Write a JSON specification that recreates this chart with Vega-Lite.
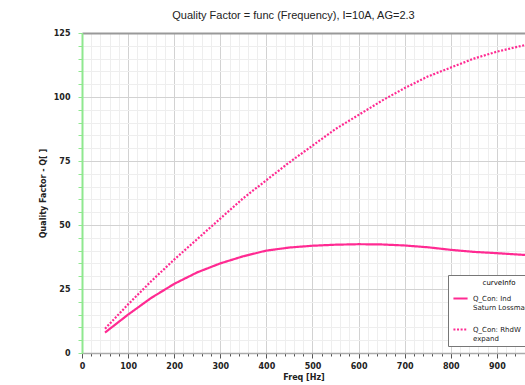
{
  "$schema": "https://vega.github.io/schema/vega-lite/v6.json",
  "width": 443,
  "height": 320,
  "autosize": "none",
  "padding": {"left": 82, "top": 33, "right": 0, "bottom": 32},
  "background": "white",
  "title": {
    "text": "Quality Factor = func (Frequency), I=10A, AG=2.3",
    "font": "Liberation Sans",
    "fontSize": 11,
    "fontWeight": "normal",
    "color": "#222",
    "anchor": "middle",
    "dx": -10,
    "offset": 8
  },
  "config": {
    "view": {"stroke": null},
    "font": "DejaVu Sans"
  },
  "data": {
    "values": [
      {"f": 50, "q": 8, "s": "Q_Con: Ind|Saturn Lossmagnetic"},
      {"f": 100, "q": 15, "s": "Q_Con: Ind|Saturn Lossmagnetic"},
      {"f": 150, "q": 21.5, "s": "Q_Con: Ind|Saturn Lossmagnetic"},
      {"f": 200, "q": 27, "s": "Q_Con: Ind|Saturn Lossmagnetic"},
      {"f": 250, "q": 31.5, "s": "Q_Con: Ind|Saturn Lossmagnetic"},
      {"f": 300, "q": 35, "s": "Q_Con: Ind|Saturn Lossmagnetic"},
      {"f": 350, "q": 37.8, "s": "Q_Con: Ind|Saturn Lossmagnetic"},
      {"f": 400, "q": 40, "s": "Q_Con: Ind|Saturn Lossmagnetic"},
      {"f": 450, "q": 41.2, "s": "Q_Con: Ind|Saturn Lossmagnetic"},
      {"f": 500, "q": 41.9, "s": "Q_Con: Ind|Saturn Lossmagnetic"},
      {"f": 550, "q": 42.3, "s": "Q_Con: Ind|Saturn Lossmagnetic"},
      {"f": 600, "q": 42.5, "s": "Q_Con: Ind|Saturn Lossmagnetic"},
      {"f": 650, "q": 42.4, "s": "Q_Con: Ind|Saturn Lossmagnetic"},
      {"f": 700, "q": 42, "s": "Q_Con: Ind|Saturn Lossmagnetic"},
      {"f": 750, "q": 41.3, "s": "Q_Con: Ind|Saturn Lossmagnetic"},
      {"f": 800, "q": 40.3, "s": "Q_Con: Ind|Saturn Lossmagnetic"},
      {"f": 850, "q": 39.5, "s": "Q_Con: Ind|Saturn Lossmagnetic"},
      {"f": 900, "q": 39, "s": "Q_Con: Ind|Saturn Lossmagnetic"},
      {"f": 961, "q": 38.3, "s": "Q_Con: Ind|Saturn Lossmagnetic"},
      {"f": 50, "q": 9.5, "s": "Q_Con: RhdW|expand"},
      {"f": 100, "q": 19, "s": "Q_Con: RhdW|expand"},
      {"f": 150, "q": 28, "s": "Q_Con: RhdW|expand"},
      {"f": 200, "q": 36.5, "s": "Q_Con: RhdW|expand"},
      {"f": 250, "q": 44.5, "s": "Q_Con: RhdW|expand"},
      {"f": 300, "q": 52.5, "s": "Q_Con: RhdW|expand"},
      {"f": 350, "q": 60.5, "s": "Q_Con: RhdW|expand"},
      {"f": 400, "q": 67.5, "s": "Q_Con: RhdW|expand"},
      {"f": 450, "q": 74.5, "s": "Q_Con: RhdW|expand"},
      {"f": 500, "q": 81, "s": "Q_Con: RhdW|expand"},
      {"f": 550, "q": 87.5, "s": "Q_Con: RhdW|expand"},
      {"f": 600, "q": 93, "s": "Q_Con: RhdW|expand"},
      {"f": 650, "q": 98.5, "s": "Q_Con: RhdW|expand"},
      {"f": 700, "q": 103.5, "s": "Q_Con: RhdW|expand"},
      {"f": 750, "q": 108, "s": "Q_Con: RhdW|expand"},
      {"f": 800, "q": 111.5, "s": "Q_Con: RhdW|expand"},
      {"f": 850, "q": 115, "s": "Q_Con: RhdW|expand"},
      {"f": 900, "q": 117.7, "s": "Q_Con: RhdW|expand"},
      {"f": 961, "q": 120.3, "s": "Q_Con: RhdW|expand"}
    ]
  },
  "mark": {"type": "line", "strokeWidth": 2.2, "clip": true},
  "encoding": {
    "x": {
      "field": "f",
      "type": "quantitative",
      "scale": {"domain": [0, 961], "nice": false, "zero": false},
      "axis": {
        "title": "Freq [Hz]",
        "values": [0,20,40,60,80,100,120,140,160,180,200,220,240,260,280,300,320,340,360,380,400,420,440,460,480,500,520,540,560,580,600,620,640,660,680,700,720,740,760,780,800,820,840,860,880,900,920,940,960],
        "labelExpr": "datum.value % 100 === 0 ? datum.label : ''",
        "labelOverlap": false,
        "labelFlush": false,
        "grid": true,
        "gridColor": {"condition": {"test": "datum.value % 100 === 0", "value": "#d2d2d2"}, "value": "#eeeeee"},
        "gridWidth": 1,
        "tickColor": "#555",
        "tickSize": {"condition": {"test": "datum.value % 100 === 0", "value": 5}, "value": 3},
        "domainColor": "#aaa",
        "domainWidth": 1.5,
        "labelFont": "DejaVu Sans",
        "labelFontSize": 8,
        "labelFontWeight": "bold",
        "labelColor": "#222",
        "labelPadding": 4,
        "titleFont": "DejaVu Sans",
        "titleFontSize": 8,
        "titleFontWeight": "bold",
        "titleColor": "#222",
        "titlePadding": 3
      }
    },
    "y": {
      "field": "q",
      "type": "quantitative",
      "scale": {"domain": [0, 125], "nice": false},
      "axis": {
        "title": "Quality Factor - Q[ ]",
        "values": [0,5,10,15,20,25,30,35,40,45,50,55,60,65,70,75,80,85,90,95,100,105,110,115,120,125],
        "labelExpr": "datum.value % 25 === 0 ? datum.label : ''",
        "labelOverlap": false,
        "labelFlush": false,
        "grid": true,
        "gridColor": {"condition": [{"test": "datum.value === 125", "value": "#999999"}, {"test": "datum.value % 25 === 0", "value": "#d2d2d2"}], "value": "#eeeeee"},
        "gridWidth": {"condition": {"test": "datum.value === 125", "value": 2}, "value": 1},
        "tickColor": "#8fe88f",
        "tickSize": 4,
        "domainColor": "#8fe88f",
        "domainWidth": 2,
        "labelFont": "DejaVu Sans",
        "labelFontSize": 8,
        "labelFontWeight": "bold",
        "labelColor": "#222",
        "labelPadding": 8,
        "titleFont": "DejaVu Sans",
        "titleFontSize": 8,
        "titleFontWeight": "bold",
        "titleColor": "#222",
        "titlePadding": 6
      }
    },
    "color": {
      "field": "s",
      "type": "nominal",
      "scale": {"range": ["#ff2a92", "#ff2a92"]},
      "legend": {
        "title": "curveInfo",
        "orient": "none",
        "legendX": 366,
        "legendY": 242,
        "fillColor": "white",
        "strokeColor": "#777",
        "padding": 4,
        "titleFont": "DejaVu Sans",
        "titleFontSize": 7,
        "titleFontWeight": "normal",
        "titleAnchor": "middle",
        "titlePadding": 4,
        "labelFont": "DejaVu Sans",
        "labelFontSize": 7,
        "labelColor": "#222",
        "labelExpr": "split(datum.label, '|')",
        "symbolType": "stroke",
        "symbolStrokeWidth": 2,
        "symbolSize": 200,
        "rowPadding": 10,
        "labelLimit": 200
      }
    },
    "strokeDash": {
      "field": "s",
      "type": "nominal",
      "scale": {"range": [[1, 0], [2, 1.6]]},
      "legend": {"title": "curveInfo"}
    }
  }
}
